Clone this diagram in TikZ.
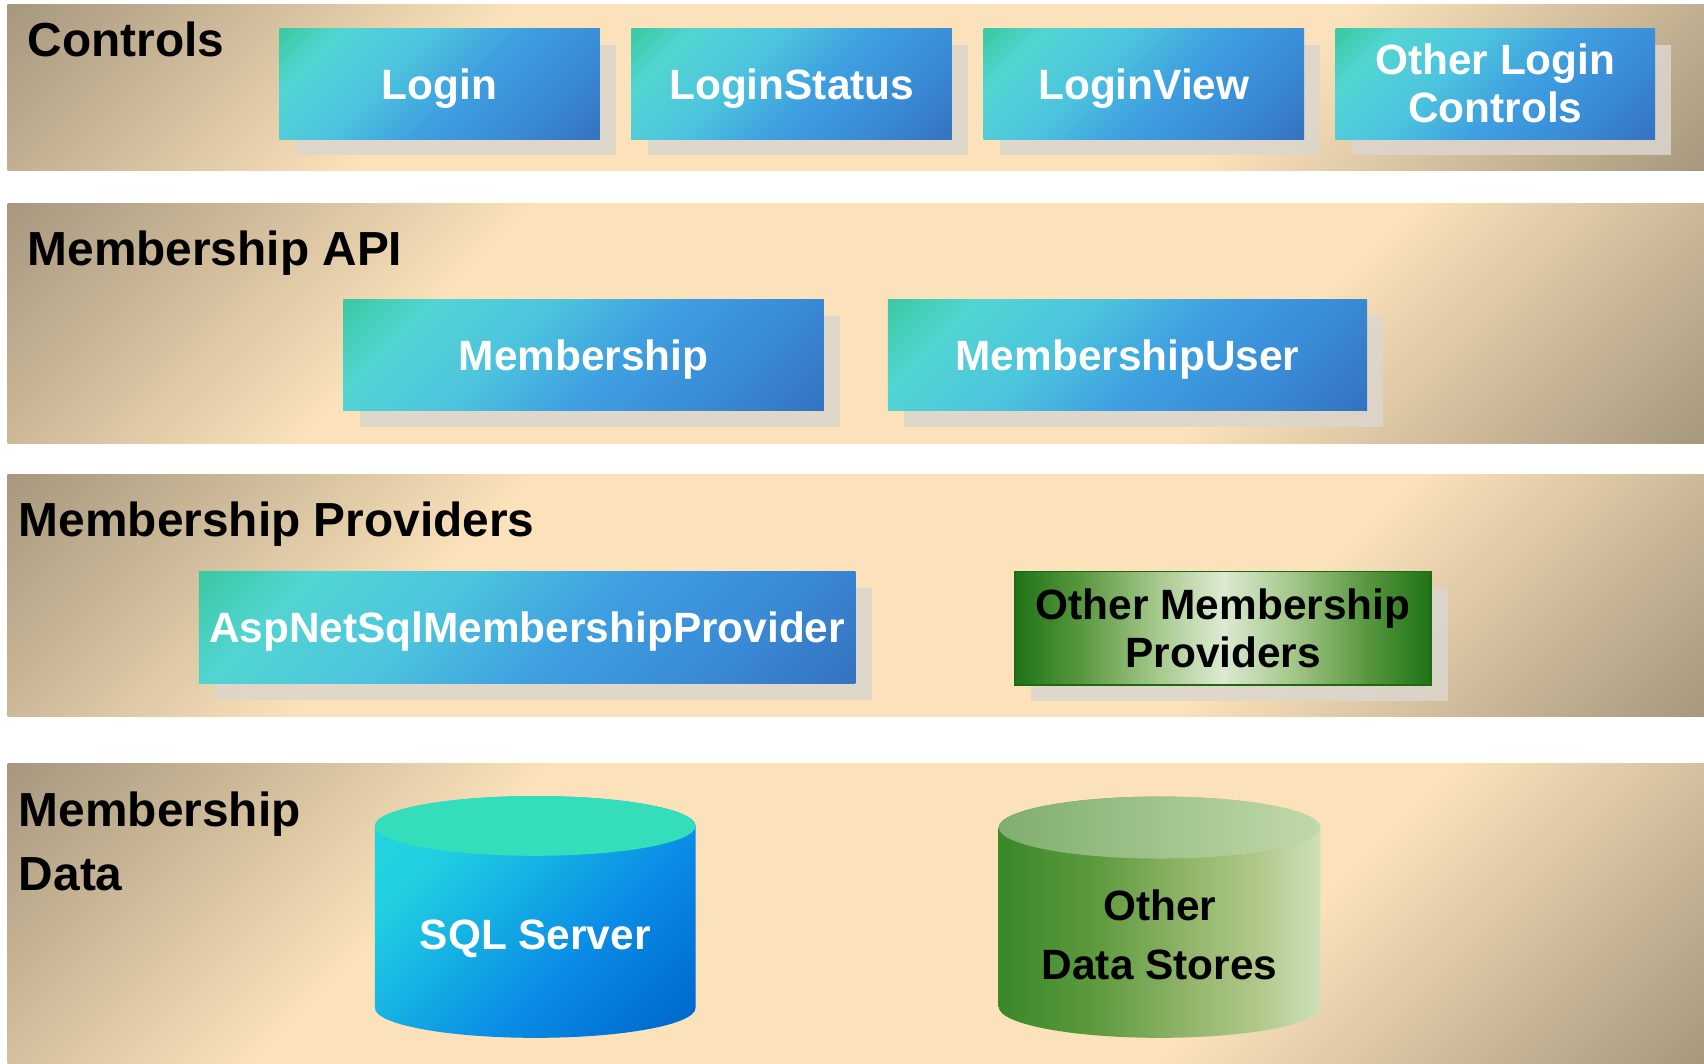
\documentclass[tikz,border=0pt]{standalone}
\usepackage{fontspec}
\setmainfont{Liberation Sans}
\usetikzlibrary{shadows}
\definecolor{bandDark}{HTML}{938670}
\definecolor{bandLight}{HTML}{FBE2BA}
\definecolor{shadowc}{HTML}{DCD6CE}
\definecolor{bA}{HTML}{3473C2}
\definecolor{bB}{HTML}{3A8BD6}
\definecolor{bC}{HTML}{3E9FE0}
\definecolor{bD}{HTML}{4DC4DE}
\definecolor{bE}{HTML}{52D5D2}
\definecolor{bF}{HTML}{3BC9A2}
\definecolor{gDark}{HTML}{1F7317}
\definecolor{gMid}{HTML}{5A9840}
\definecolor{gSoft}{HTML}{A6C88C}
\definecolor{gLight}{HTML}{DCEAD2}
\definecolor{gBorder}{HTML}{1E6A14}
\definecolor{sA}{HTML}{006CD0}
\definecolor{sB}{HTML}{0A8CE6}
\definecolor{sC}{HTML}{14AEE4}
\definecolor{sD}{HTML}{20CFE0}
\definecolor{sE}{HTML}{22D6DE}
\definecolor{sqltop}{HTML}{34DEBA}
\definecolor{cA}{HTML}{3A8828}
\definecolor{cB}{HTML}{5E9A3E}
\definecolor{cC}{HTML}{93B66C}
\definecolor{cD}{HTML}{AFC88A}
\definecolor{cE}{HTML}{CEE0B8}
\definecolor{ctA}{HTML}{7FAE6E}
\definecolor{ctB}{HTML}{C2D9AA}
\pgfdeclareverticalshading{bandgrad}{100bp}{color(0bp)=(bandDark); color(10bp)=(bandDark); color(34bp)=(bandLight); color(66bp)=(bandLight); color(90bp)=(bandDark); color(100bp)=(bandDark)}
\pgfdeclareverticalshading{bluegrad}{100bp}{color(0bp)=(bA); color(15bp)=(bA); color(30bp)=(bB); color(45bp)=(bC); color(60bp)=(bD); color(75bp)=(bE); color(85bp)=(bF); color(100bp)=(bF)}
\pgfdeclarehorizontalshading{greengrad}{100bp}{color(0bp)=(gDark); color(25bp)=(gDark); color(33bp)=(gMid); color(42bp)=(gSoft); color(50bp)=(gLight); color(58bp)=(gSoft); color(67bp)=(gMid); color(75bp)=(gDark); color(100bp)=(gDark)}
\pgfdeclareverticalshading{sqlgrad}{100bp}{color(0bp)=(sA); color(20bp)=(sA); color(40bp)=(sB); color(55bp)=(sC); color(70bp)=(sD); color(85bp)=(sE); color(100bp)=(sE)}
\pgfdeclarehorizontalshading{cylgrad}{100bp}{color(0bp)=(cA); color(25bp)=(cA); color(40bp)=(cB); color(55bp)=(cC); color(65bp)=(cD); color(75bp)=(cE); color(100bp)=(cE)}
\pgfdeclarehorizontalshading{cyltopgrad}{100bp}{color(0bp)=(ctA); color(25bp)=(ctA); color(75bp)=(ctB); color(100bp)=(ctB)}
\newcommand{\boxfont}{\bfseries\fontsize{19.5pt}{22pt}\selectfont}
\newcommand{\headfont}{\bfseries\fontsize{22pt}{29.5pt}\selectfont}
\tikzset{
  band/.style={shade, shading=bandgrad, shading angle=45},
  heading/.style={font=\headfont, inner sep=0pt, text=black, align=left},
  boxshadow/.style={general shadow={fill=shadowc, fill opacity=0.85, shadow xshift=7.5pt, shadow yshift=-7.5pt}},
  bluebox/.style={boxshadow, shade, shading=bluegrad, shading angle=45, text=white, inner sep=0pt, minimum height=51pt, align=center, font=\boxfont},
  oneline/.style={text depth=0pt},
  greenbox/.style={boxshadow, shade, shading=greengrad, draw=gBorder, line width=0.8pt, text=black, inner sep=0pt, minimum height=52pt, align=center, font=\boxfont},
  cyllabel/.style={font=\bfseries\fontsize{19.5pt}{27pt}\selectfont, align=center, inner sep=0pt}
}
\begin{document}
\begin{tikzpicture}[x=0.5pt, y=0.5pt]
\useasboundingbox[fill=white] (0,0) rectangle (1568,-979);
% bands
\shade[band] (7,-4) rectangle (1568,-157);
\shade[band] (7,-187) rectangle (1568,-408);
\shade[band] (7,-437) rectangle (1568,-659);
\shade[band] (7,-703) rectangle (1568,-979);
% headings
\node[heading, anchor=base west] (hctl) at (25,-52) {Controls};
\node[heading, anchor=base west] (hapi) at (25,-244) {Membership API};
\node[heading, anchor=base west] (hprov) at (17,-494) {Membership Providers};
\node[heading, anchor=north west] (hdata) at (17,-728) {Membership\\Data};
% controls
\node[bluebox, oneline, minimum width=147.5pt] (login) at (404.5,-77) {Login};
\node[bluebox, oneline, minimum width=147.5pt] (loginstatus) at (728.5,-77) {LoginStatus};
\node[bluebox, oneline, minimum width=147.5pt] (loginview) at (1052.5,-77) {LoginView};
\node[bluebox, minimum width=147pt] (otherlogin) at (1376,-77) {Other Login\\Controls};
% API
\node[bluebox, oneline, minimum width=221pt] (membership) at (537,-327) {Membership};
\node[bluebox, oneline, minimum width=220.5pt] (membershipuser) at (1037.5,-327) {MembershipUser};
% providers
\node[bluebox, oneline, minimum width=302pt, minimum height=51.5pt] (aspnet) at (485,-577.5) {AspNetSqlMembershipProvider};
\node[greenbox, minimum width=191.5pt] (othermp) at (1125.5,-578) {Other Membership\\Providers};
% SQL Server cylinder
\shade[shading=sqlgrad, shading angle=45] (345,-760) -- (345,-927.5)
  arc[start angle=180, end angle=360, x radius=73.75pt, y radius=13.75pt]
  -- (640,-760)
  arc[start angle=0, end angle=180, x radius=73.75pt, y radius=13.75pt] -- cycle;
\fill[sqltop] (492.5,-760) ellipse [x radius=73.75pt, y radius=13.75pt];
\node[cyllabel, oneline, text=white] (sql) at (492.5,-860) {SQL Server};
% Other data stores cylinder
\shade[shading=cylgrad] (919,-761.5) -- (919,-926.5)
  arc[start angle=180, end angle=360, x radius=74pt, y radius=14.25pt]
  -- (1215,-761.5)
  arc[start angle=0, end angle=180, x radius=74pt, y radius=14.25pt] -- cycle;
\shade[shading=cyltopgrad] (1067,-761.5) ellipse [x radius=74pt, y radius=14.25pt];
\node[cyllabel, text=black] (otherds) at (1067,-860) {Other\\Data Stores};
\end{tikzpicture}
\end{document}
